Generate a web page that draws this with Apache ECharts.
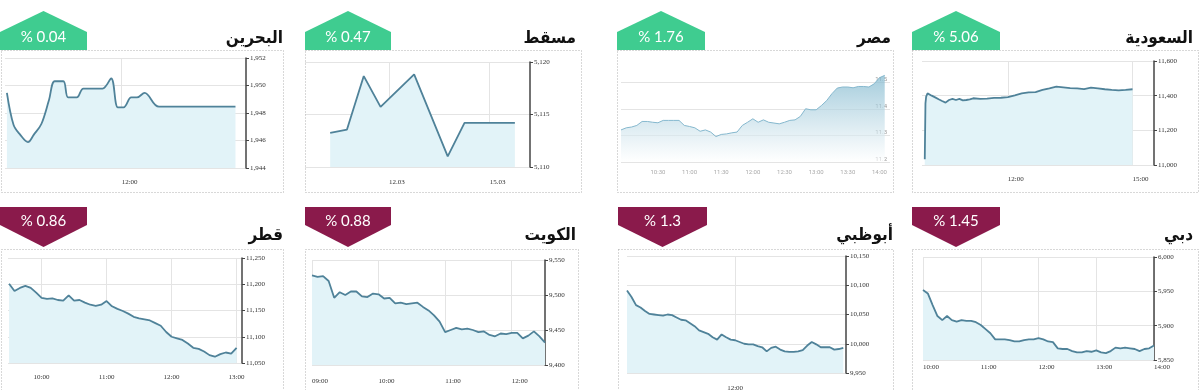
<!DOCTYPE html>
<html><head><meta charset="utf-8">
<script src="https://cdn.jsdelivr.net/npm/echarts@6/dist/echarts.min.js"></script>
<style>html,body{margin:0;padding:0;background:#fff;}#c{width:1200px;height:390px;}</style>
</head><body><div id="c"></div>
<script>
// ---------- DATA ----------
const titles = ["البحرين","مسقط","مصر","السعودية","قطر","الكويت","أبوظبي","دبي"];
const changes = ["% 0.04","% 0.47","% 1.76","% 5.06","% 0.86","% 0.88","% 1.3","% 1.45"];
const directions = ["up","up","up","up","down","down","down","down"];

const bahrainTimes = ["10:00","10:07","10:14","10:22","10:28","10:36","10:44","10:50","10:59","11:04","11:13","11:20","11:40","11:49","11:56","12:02","12:10","12:16","12:24","12:39","13:59"];
const bahrainValues = [1949.47,1947.13,1946.41,1945.88,1946.41,1947.2,1948.94,1950.31,1950.31,1949.13,1949.13,1949.78,1949.78,1950.51,1948.41,1948.41,1949.13,1949.13,1949.47,1948.46,1948.46];
const bahrainXTicks = ["12:00"];
const bahrainYTicks = [1944,1946,1948,1950,1952];

const muscatDays = [10.25,10.75,11.25,11.75,12.75,13.75,14.25,15.75];
const muscatValues = [5113.25,5113.57,5118.66,5115.73,5118.82,5111.02,5114.2,5114.2];
const muscatXTicks = ["12.03","15.03"];
const muscatYTicks = [5110,5115,5120];

const egyptStart = "09:55";
const egyptValues = [11321,11329,11332,11338,11353,11353,11350,11348,11357,11357,11357,11357,11338,11334,11329,11316,11321,11313,11296,11304,11306,11310,11313,11338,11350,11363,11350,11359,11350,11347,11344,11350,11357,11359,11372,11401,11397,11397,11413,11432,11458,11479,11483,11483,11480,11485,11485,11483,11495,11518,11527];
const egyptXTicks = ["10:30","11:00","11:30","12:00","12:30","13:00","13:30","14:00"];
const egyptYTicks = [11200,11300,11400,11500];

const saudiTimes = ["10:00","10:01","10:02","10:04","10:10","10:15","10:20","10:25","10:30","10:35","10:40","10:45","10:50","10:55","11:00","11:05","11:10","11:20","11:30","11:40","11:50","12:00","12:10","12:20","12:30","12:40","12:50","13:00","13:10","13:20","13:30","13:40","13:50","14:00","14:10","14:20","14:30","14:40","14:50","15:00"];
const saudiValues = [11033,11356,11394,11413,11400,11390,11379,11369,11360,11375,11381,11375,11381,11373,11375,11379,11385,11381,11383,11387,11388,11392,11402,11413,11419,11421,11433,11442,11452,11448,11444,11442,11438,11446,11442,11437,11433,11431,11433,11437];
const saudiXTicks = ["12:00","15:00"];
const saudiYTicks = [11000,11200,11400,11600];

const qatarStart = "09:30";
const qatarValues = [11201,11187,11193,11197,11193,11184,11174,11172,11173,11170,11169,11179,11169,11170,11165,11161,11159,11161,11168,11158,11153,11149,11144,11138,11135,11133,11131,11126,11121,11109,11100,11097,11094,11087,11079,11077,11072,11065,11062,11067,11070,11068,11079];
const qatarXTicks = ["10:00","11:00","12:00","13:00"];
const qatarYTicks = [11050,11100,11150,11200,11250];

const kuwaitStart = "09:00";
const kuwaitValues = [9528,9526,9527,9520,9496,9504,9500,9505,9505,9498,9497,9502,9501,9495,9496,9488,9489,9487,9488,9489,9483,9478,9471,9462,9447,9450,9453,9451,9452,9450,9447,9448,9443,9441,9445,9444,9446,9446,9438,9442,9448,9441,9432];
const kuwaitXTicks = ["09:00","10:00","11:00","12:00"];
const kuwaitYTicks = [9400,9450,9500,9550];

const abuDhabiStart = "10:00";
const abuDhabiValues = [10091,10080,10066,10062,10056,10051,10050,10049,10048,10050,10049,10045,10041,10040,10035,10030,10023,10020,10017,10011,10007,10016,10011,10007,10006,10003,10000,9999,9999,9996,9994,9987,9993,9995,9990,9987,9986,9986,9987,9989,9997,10003,9999,9994,9994,9994,9990,9991,9993];
const abuDhabiXTicks = ["12:00"];
const abuDhabiYTicks = [9950,10000,10050,10100,10150];

const dubaiStart = "10:00";
const dubaiValues = [5952,5947,5930,5914,5908,5914,5908,5906,5908,5907,5907,5905,5901,5895,5889,5880,5880,5880,5879,5877,5877,5879,5880,5880,5882,5880,5877,5876,5867,5866,5866,5863,5861,5861,5863,5862,5864,5861,5860,5863,5868,5867,5868,5867,5866,5863,5866,5867,5871];
const dubaiXTicks = ["10:00","11:00","12:00","13:00","14:00"];
const dubaiYTicks = [5850,5900,5950,6000];

// ---------- HELPERS ----------
function toMin(s){ const p = s.split(':').map(Number); return p[0]*60 + p[1]; }
function dayOf(s){ return parseFloat(s.split('.')[0]); }
function seqTimes(start, step, n){ const s = toMin(start); const out=[]; for(let i=0;i<n;i++) out.push(s+i*step); return out; }
function thousands(v){ return String(Math.round(v)).replace(/\B(?=(\d{3})+(?!\d))/g, ','); }
function pairs(xs, ys){ return ys.map((y,i)=>[xs[i], y]); }

const panelData = [
  {xs: bahrainTimes.map(toMin), ys: bahrainValues, xt: bahrainXTicks, xp: toMin, yt: bahrainYTicks},
  {xs: muscatDays, ys: muscatValues, xt: muscatXTicks, xp: dayOf, yt: muscatYTicks},
  {xs: seqTimes(egyptStart,5,egyptValues.length), ys: egyptValues, xt: egyptXTicks, xp: toMin, yt: egyptYTicks},
  {xs: saudiTimes.map(toMin), ys: saudiValues, xt: saudiXTicks, xp: toMin, yt: saudiYTicks},
  {xs: seqTimes(qatarStart,5,qatarValues.length), ys: qatarValues, xt: qatarXTicks, xp: toMin, yt: qatarYTicks},
  {xs: seqTimes(kuwaitStart,5,kuwaitValues.length), ys: kuwaitValues, xt: kuwaitXTicks, xp: toMin, yt: kuwaitYTicks},
  {xs: seqTimes(abuDhabiStart,5,abuDhabiValues.length), ys: abuDhabiValues, xt: abuDhabiXTicks, xp: toMin, yt: abuDhabiYTicks},
  {xs: seqTimes(dubaiStart,5,dubaiValues.length), ys: dubaiValues, xt: dubaiXTicks, xp: toMin, yt: dubaiYTicks}
];

// ---------- LAYOUT ----------
const layout = [
  {box:[1,50,282,142], badge:[0,87], titleRight:283, grid:{left:5,top:58,width:241,height:110}, xr:[598,850], xAlign:'left', xMargin:11, smooth:0.35},
  {box:[305,50,276,142], badge:[305,391], titleRight:576, grid:{left:305,top:62,width:225,height:105}, xr:[9.5,16.2], xAlign:'left', xMargin:12, smooth:false},
  {box:[617,50,276,142], badge:[617,705], titleRight:891, grid:{left:621,top:56,width:269,height:106}, xr:[595,850], xAlign:'center', xMargin:7, smooth:false, egypt:true},
  {box:[912,50,286,142], badge:[912,1000], titleRight:1193, grid:{left:922,top:61,width:232,height:104}, xr:[596,931], xAlign:'left', xMargin:11, smooth:false},
  {box:[1,249,282,150], badge:[0,87], titleRight:283, grid:{left:8,top:258,width:234,height:105}, xr:[569,785], xAlign:'center', xMargin:11, smooth:false},
  {box:[305,249,273,150], badge:[305,391], titleRight:576, grid:{left:312,top:260,width:233,height:105}, xr:[540,750], xAlign:'left', xMargin:13, smooth:false},
  {box:[618,249,275,150], badge:[618,707], titleRight:893, grid:{left:627,top:256,width:219,height:117}, xr:[600,843], xAlign:'center', xMargin:12, smooth:false},
  {box:[912,249,286,150], badge:[912,1000], titleRight:1193, grid:{left:923,top:257,width:231,height:103}, xr:[600,840], xAlign:'left', xMargin:4, smooth:false}
];

const GREEN = '#3fcc90', MAROON = '#8a1a4b';
const grids=[], xAxes=[], yAxes=[], series=[], graphics=[];

layout.forEach((L, i) => {
  const D = panelData[i];
  grids.push(Object.assign({containLabel:false, outerBoundsMode:'none'}, L.grid));
  const xVals = D.xt.map(D.xp);
  const xLabelMap = {}; D.xt.forEach((t,k)=>{ xLabelMap[xVals[k].toFixed(2)] = t; });
  const eg = !!L.egypt;
  xAxes.push({
    type:'value', gridIndex:i, min:L.xr[0], max:L.xr[1],
    axisLine:{show:false},
    axisTick:{show:false, customValues:xVals},
    axisLabel:{customValues:xVals, align:L.xAlign, margin:L.xMargin,
      fontFamily: eg ? 'Roboto' : 'Liberation Serif', fontSize: eg ? 6 : 7, color: eg ? '#aaa' : '#333',
      formatter: v => xLabelMap[Number(v).toFixed(2)] || ''},
    splitLine:{show:!eg, lineStyle:{color:'#e4e4e4', width:1}}
  });
  const ymin = D.yt[0], ymax = eg ? 11600 : D.yt[D.yt.length-1];
  const interval = D.yt[1]-D.yt[0];
  yAxes.push({
    type:'value', gridIndex:i, position:'right', min:ymin, max:ymax, interval:interval,
    axisLine:{show:!eg, lineStyle:{color:'#444', width:1.5}},
    axisTick: eg ? {show:false, customValues:D.yt} : {show:true, length:3, lineStyle:{color:'#444', width:1}},
    axisLabel: eg ? {customValues:D.yt, inside:true, verticalAlign:'bottom', margin:3, fontSize:6, color:'#999', fontFamily:'Roboto',
                     formatter: v => (v/1000).toFixed(1)}
                  : {margin:4, fontSize:7, color:'#333', fontFamily:'Liberation Serif', formatter: v => thousands(v)},
    splitLine:{show:true, lineStyle:{color: '#e4e4e4', width:1}}
  });
  series.push({
    type:'line', xAxisIndex:i, yAxisIndex:i, data:pairs(D.xs, D.ys),
    showSymbol:false, smooth:L.smooth, silent:true,
    lineStyle: eg ? {color:'#85b8ce', width:1} : {color:'#4f8299', width:1.8},
    areaStyle: eg ? {origin:'start', color:new echarts.graphic.LinearGradient(0,0,0,1,[{offset:0,color:'#7db6cd'},{offset:1,color:'rgba(255,255,255,0.85)'}])}
                  : {origin:'start', color:'#e2f3f8', opacity:1}
  });

  // panel border
  graphics.push({type:'rect', shape:{x:L.box[0]+0.5, y:L.box[1]+0.5, width:L.box[2], height:L.box[3]},
    style:{fill:null, stroke:'#b0b0b0', lineWidth:1, lineDash:[1,2]}, z:1, silent:true});
  // badge
  const bl = L.badge[0], br = L.badge[1], bc = (bl+br)/2;
  const up = directions[i] === 'up';
  const pts = up ? [[bl,50],[bl,32],[bc,11],[br,32],[br,50]]
                 : [[bl,207],[br,207],[br,225],[bc,247],[bl,225]];
  graphics.push({type:'polygon', shape:{points:pts}, style:{fill: up ? GREEN : MAROON}, z:5, silent:true});
  graphics.push({type:'text', x:bc, y: up ? 37 : 221, z:6, silent:true,
    style:{text:changes[i], fill:'#fff', font:'15px Lato', align:'center', verticalAlign:'middle'}});
  // title
  graphics.push({type:'text', x:L.titleRight, y: up ? 39 : 236, z:6, silent:true,
    style:{text:titles[i], fill:'#111', font:'bold 17px "DejaVu Sans Condensed", "DejaVu Sans"', align:'right', verticalAlign:'middle'}});
});

const chart = echarts.init(document.getElementById('c'), null, {renderer:'canvas', width:1200, height:390});
chart.setOption({
  animation:false,
  backgroundColor:'#fff',
  grid:grids, xAxis:xAxes, yAxis:yAxes, series:series, graphic:graphics
});
</script>
</body></html>
